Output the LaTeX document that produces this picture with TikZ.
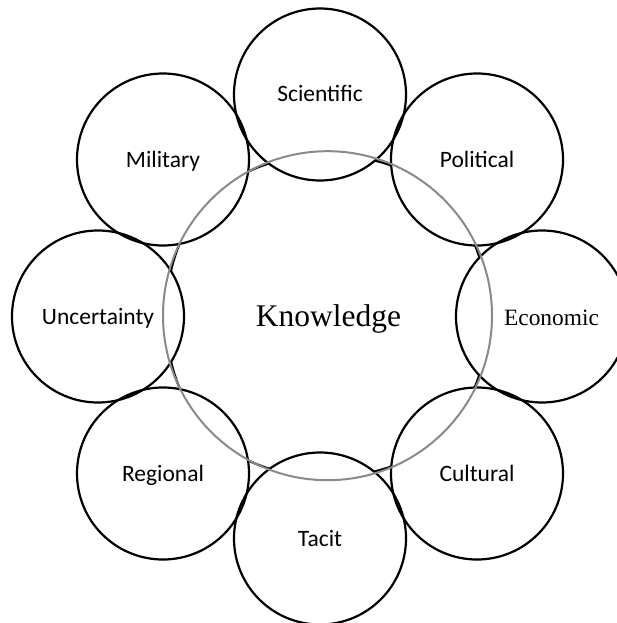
\documentclass[tikz,border=0pt]{standalone}
\usepackage{fontspec}
\setmainfont{Liberation Serif}
\newfontfamily\labelfont{Carlito}
\definecolor{rimgray}{RGB}{138,138,138}
\begin{document}
\begin{tikzpicture}[x=1pt,y=-1pt,
  ring/.style={circle, draw=black, line width=2.2pt, minimum size=172pt,
    inner sep=0pt, text height=15pt, text depth=0pt,
    font=\labelfont\fontsize{23.5}{28}\selectfont},
  serifsmall/.style={inner sep=0pt, text height=15.5pt, text depth=0pt,
    font=\fontsize{23.4}{28}\selectfont},
  core/.style={inner sep=0pt, text height=20.9pt, text depth=0pt,
    font=\fontsize{31.5}{36}\selectfont},
]
\useasboundingbox (0,0) rectangle (616,623);

% black rim of the core (slightly wavy)
\draw[line width=2.2pt, variable=\t, domain=0:358, samples=180]
  plot[smooth cycle] ({327+(163.5-2.5*cos(4*\t))*cos(\t)},
                      {316+(163.5-2.5*cos(4*\t))*sin(\t)});

% white discs under the surrounding circles
\foreach \cx/\cy in {320/94.5, 477/159.5, 542/316.5, 477/473.5,
                     320/538.5, 163/473.5, 98/316.5, 163/159.5}
  \fill[white] (\cx,\cy) circle (86pt);

% surrounding circles
\node[ring] (sci) at (320,94.5)  {Scientific};
\node[ring] (pol) at (477,159.5) {Political};
\node[ring] (eco) at (542,316.5) {};
\node[ring] (cul) at (477,473.5) {Cultural};
\node[ring] (tac) at (320,538.5) {Tacit};
\node[ring] (reg) at (163,473.5) {Regional};
\node[ring] (unc) at (98,316.5)  {Uncertainty};
\node[ring] (mil) at (163,159.5) {Military};
\node[serifsmall] (ecotext) at (551.5,317.5) {Economic};

% grey outline of the core
\draw[rimgray, line width=2pt] (327.5,315.7) circle (164.5pt);

\node[core] (know) at (328.5,316.3) {Knowledge};
\end{tikzpicture}
\end{document}
